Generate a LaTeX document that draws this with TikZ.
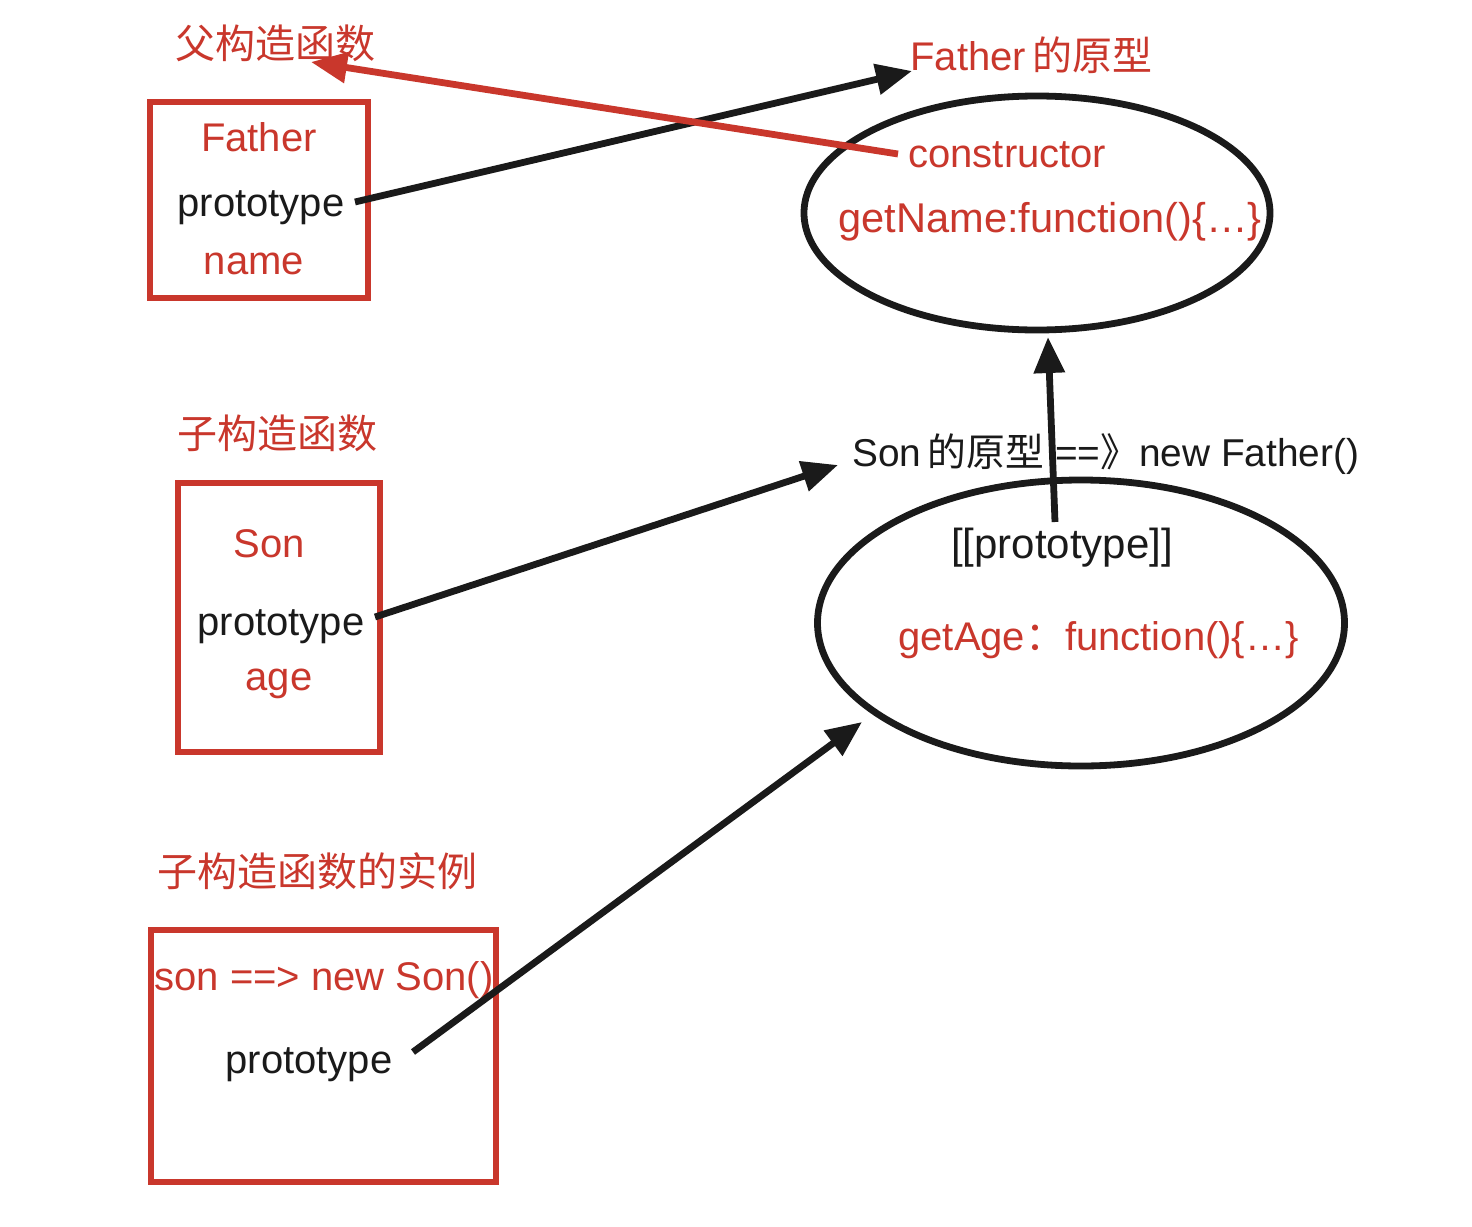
\documentclass[tikz,border=0pt]{standalone}
\usepackage{fontspec}
\setmainfont{Liberation Sans}
\newfontfamily\cjk{Noto Sans CJK SC}
\usetikzlibrary{shapes.geometric,arrows.meta}
\definecolor{dred}{HTML}{C9372C}
\definecolor{dblack}{HTML}{1A1A1A}
\begin{document}
\begin{tikzpicture}[x=0.5pt,y=-0.5pt,
  box/.style={draw=dred,line width=3.4pt,rectangle,inner sep=0pt},
  oval/.style={draw=dblack,line width=3.4pt,ellipse,inner sep=0pt},
  rtxt/.style={text=dred,font=\fontsize{20pt}{24pt}\selectfont,inner sep=0pt,anchor=base},
  btxt/.style={text=dblack,font=\fontsize{20pt}{24pt}\selectfont,inner sep=0pt,anchor=base},
  barr/.style={draw=dblack,line width=3.4pt,-{Triangle[length=18pt,width=15pt]}},
  rarr/.style={draw=dred,line width=3.4pt,-{Triangle[length=18pt,width=15pt]}}]
\useasboundingbox[fill=white] (0,0) rectangle (1472,1226);

% Father constructor
\node[rtxt] (t1) at (275,58) {\cjk 父构造函数};
\node[box,minimum width=109pt,minimum height=98pt] (b1) at (259,200) {};
\node[rtxt] (father) at (259,151) {Father};
\node[btxt] (p1) at (261,216) {prototype};
\node[rtxt] (name) at (254,274) {name};

% Father prototype
\node[rtxt,anchor=base west] (t2) at (910,70) {Father\,{\cjk 的原型}};
\node[oval,minimum width=233pt,minimum height=117pt] (e1) at (1037,213) {};
\node[rtxt,anchor=base west] (ctor) at (908,167) {constructor};
\node[rtxt,font=\fontsize{20.8pt}{24pt}\selectfont] (gn) at (1050,232) {getName:function()\{…\}};

% Son constructor
\node[rtxt] (t3) at (277,448) {\cjk 子构造函数};
\node[box,minimum width=101pt,minimum height=134.5pt] (b2) at (279,617.5) {};
\node[rtxt] (son) at (269,557) {Son};
\node[btxt] (p2) at (281,635) {prototype};
\node[rtxt] (age) at (279,690) {age};

% Son prototype
\node[btxt,anchor=base west,font=\fontsize{19.4pt}{24pt}\selectfont] (t4) at (852,466) {Son\,{\cjk 的原型} =={\cjk 》}new Father()};
\node[oval,minimum width=263.5pt,minimum height=143pt] (e2) at (1081,623) {};
\node[btxt,font=\fontsize{21pt}{24pt}\selectfont] (pp) at (1062,558) {[[prototype]]};
\node[rtxt,anchor=base west] (ga) at (898,650) {getAge{\cjk ：}function()\{…\}};

% instance
\node[rtxt,anchor=base west] (t5) at (157,886) {\cjk 子构造函数的实例};
\node[box,minimum width=172.5pt,minimum height=126pt] (b3) at (323.5,1056) {};
\node[rtxt] (inst) at (324,990) {son ==> new Son()};
\node[btxt] (p3) at (309,1073) {prototype};

% connector ends
\coordinate (s1) at (355,202);
\coordinate (e1tip) at (912,71);
\coordinate (c1) at (898,154);
\coordinate (t1tip) at (311,62);
\coordinate (s2) at (375,617);
\coordinate (e2tip) at (838,465);
\coordinate (s3) at (1055,522);
\coordinate (e3tip) at (1048,337);
\coordinate (s4) at (413,1052);
\coordinate (e4tip) at (862,722);

\draw[barr] (s1) -- (e1tip);
\draw[rarr] (c1) -- (t1tip);
\draw[barr] (s2) -- (e2tip);
\draw[barr] (s3) -- (e3tip);
\draw[barr] (s4) -- (e4tip);
\end{tikzpicture}
\end{document}
